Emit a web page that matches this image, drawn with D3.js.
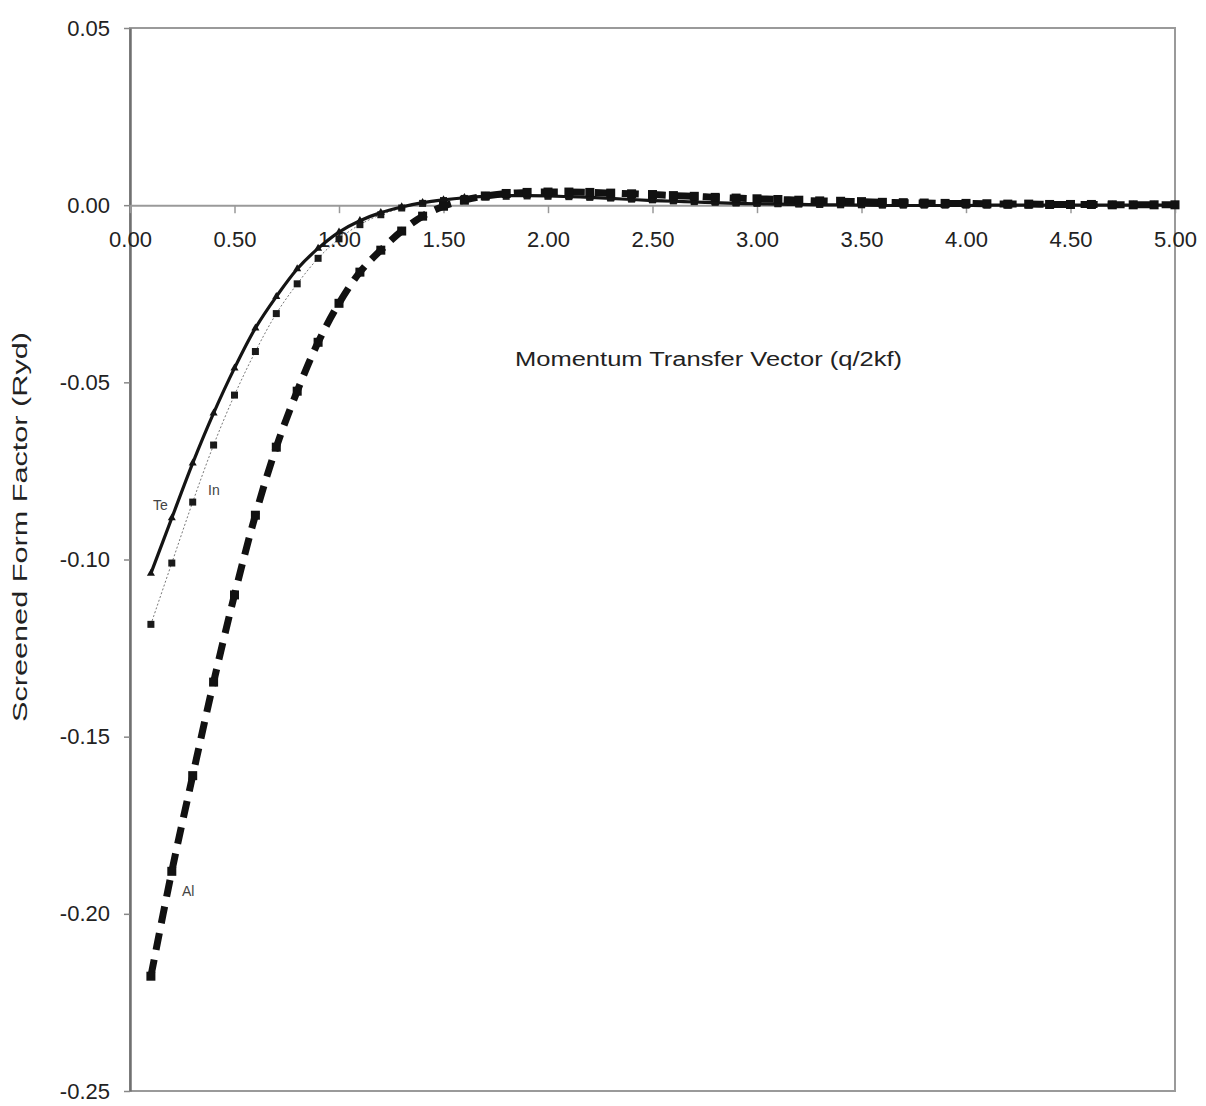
<!DOCTYPE html>
<html>
<head>
<meta charset="utf-8">
<script src="https://cdn.jsdelivr.net/npm/d3@7"></script>
<style>
  body { margin: 0; background: #fff; }
  text { font-family: "Liberation Sans", Arial, sans-serif; }
</style>
</head>
<body>
<div id="chart"></div>
<script>
// momentum transfer q/2kf
const qValues = [0.1, 0.2, 0.3, 0.4, 0.5, 0.6, 0.7, 0.8, 0.9, 1.0,
  1.1, 1.2, 1.3, 1.4, 1.5, 1.6, 1.7, 1.8, 1.9, 2.0,
  2.1, 2.2, 2.3, 2.4, 2.5, 2.6, 2.7, 2.8, 2.9, 3.0,
  3.1, 3.2, 3.3, 3.4, 3.5, 3.6, 3.7, 3.8, 3.9, 4.0,
  4.1, 4.2, 4.3, 4.4, 4.5, 4.6, 4.7, 4.8, 4.9, 5.0];

const teValues = [-0.1039, -0.0883, -0.0728, -0.0587, -0.0460, -0.0347, -0.0258, -0.0180, -0.0122, -0.0076,
  -0.0044, -0.0021, -0.0005, 0.0007, 0.0015, 0.0021, 0.0025, 0.0027, 0.0027, 0.0026,
  0.0024, 0.0022, 0.0019, 0.0016, 0.0013, 0.0011, 0.0009, 0.0007, 0.0005, 0.0004,
  0.0003, 0.0002, 0.0001, 0.0001, 0.0000, -0.0001, -0.0001, -0.0001, -0.0001, -0.0001,
  0.0000, 0.0000, 0.0000, 0.0000, 0.0000, 0.0000, 0.0000, 0.0000, 0.0000, 0.0000];

const inValues = [-0.1183, -0.1010, -0.0838, -0.0677, -0.0536, -0.0413, -0.0306, -0.0222, -0.0150, -0.0095,
  -0.0055, -0.0027, -0.0008, 0.0005, 0.0013, 0.0019, 0.0023, 0.0025, 0.0026, 0.0025,
  0.0024, 0.0022, 0.0020, 0.0017, 0.0015, 0.0012, 0.0010, 0.0008, 0.0006, 0.0005,
  0.0004, 0.0003, 0.0002, 0.0001, 0.0001, 0.0000, 0.0000, 0.0000, 0.0000, 0.0000,
  0.0000, 0.0000, 0.0000, 0.0000, 0.0000, 0.0000, 0.0000, 0.0000, 0.0000, 0.0000];

const alValues = [-0.2176, -0.1880, -0.1610, -0.1346, -0.1100, -0.0875, -0.0683, -0.0525, -0.0387, -0.0277,
  -0.0189, -0.0127, -0.0073, -0.0031, -0.0003, 0.0014, 0.0026, 0.0033, 0.0036, 0.0037,
  0.0037, 0.0036, 0.0034, 0.0032, 0.0030, 0.0027, 0.0025, 0.0022, 0.0020, 0.0018,
  0.0016, 0.0014, 0.0012, 0.0011, 0.0010, 0.0008, 0.0007, 0.0006, 0.0005, 0.0005,
  0.0004, 0.0003, 0.0003, 0.0002, 0.0002, 0.0002, 0.0001, 0.0001, 0.0001, 0.0001];

const xTicks = [0, 0.5, 1.0, 1.5, 2.0, 2.5, 3.0, 3.5, 4.0, 4.5, 5.0];
const yTicks = [0.05, 0, -0.05, -0.10, -0.15, -0.20, -0.25];

const width = 1206;
const height = 1106;
const plotLeft = 130, plotRight = 1175, plotTop = 28, plotBottom = 1091;

const svg = d3.select('#chart').append('svg')
  .attr('width', width)
  .attr('height', height);

const x = d3.scaleLinear().domain([0, 5]).range([plotLeft, plotRight]);
const y = d3.scaleLinear().domain([-0.25, 0.05]).range([plotBottom, plotTop]);
const fmt = d3.format('.2f');

// plot frame
svg.append('rect')
  .attr('x', plotLeft).attr('y', plotTop)
  .attr('width', plotRight - plotLeft).attr('height', plotBottom - plotTop)
  .attr('fill', 'none')
  .attr('stroke', '#9a9a9a')
  .attr('stroke-width', 2);

// y axis, ticks outward to the left
const yAxis = svg.append('g')
  .attr('transform', `translate(${plotLeft},0)`)
  .call(d3.axisLeft(y).tickValues(yTicks).tickSize(6).tickPadding(14).tickSizeOuter(0));
yAxis.select('.domain').attr('stroke', '#707070').attr('stroke-width', 2.5);
yAxis.selectAll('.tick line').attr('stroke', '#888').attr('stroke-width', 1.5);
yAxis.selectAll('.tick text')
  .attr('font-size', 22)
  .attr('fill', '#222')
  .text(d => fmt(d).replace('\u2212', '-'));

// x axis on the zero line, ticks downward
const xAxis = svg.append('g')
  .attr('transform', `translate(0,${y(0)})`)
  .call(d3.axisBottom(x).tickValues(xTicks).tickFormat(fmt).tickSize(8).tickPadding(18).tickSizeOuter(0));
xAxis.select('.domain').attr('stroke', '#9a9a9a').attr('stroke-width', 2);
xAxis.selectAll('.tick line').attr('stroke', '#999').attr('stroke-width', 1.5);
xAxis.selectAll('.tick text').attr('font-size', 22).attr('fill', '#222');

// axis titles
svg.append('text')
  .attr('x', 515).attr('y', 366)
  .attr('font-size', 20)
  .attr('fill', '#222')
  .attr('textLength', 387)
  .attr('lengthAdjust', 'spacingAndGlyphs')
  .text('Momentum Transfer Vector (q/2kf)');

svg.append('text')
  .attr('transform', 'translate(27,527) rotate(-90)')
  .attr('text-anchor', 'middle')
  .attr('font-size', 20)
  .attr('fill', '#222')
  .attr('textLength', 390)
  .attr('lengthAdjust', 'spacingAndGlyphs')
  .text('Screened Form Factor (Ryd)');

const line = d3.line()
  .x((d, i) => x(qValues[i]))
  .y(d => y(d))
  .curve(d3.curveCatmullRom);

const plot = svg.append('g');

// In: thin dotted line, square markers
plot.append('path')
  .datum(inValues)
  .attr('d', line)
  .attr('fill', 'none')
  .attr('stroke', '#777')
  .attr('stroke-width', 1)
  .attr('stroke-dasharray', '2,2');
plot.append('g').selectAll('rect')
  .data(inValues)
  .enter()
  .append('rect')
  .attr('x', (d, i) => x(qValues[i]) - 3.5)
  .attr('y', d => y(d) - 3.5)
  .attr('width', 7).attr('height', 7)
  .attr('fill', '#1a1a1a');

// Te: solid line, small triangle markers
plot.append('path')
  .datum(teValues)
  .attr('d', line)
  .attr('fill', 'none')
  .attr('stroke', '#141414')
  .attr('stroke-width', 3.2);
plot.append('g').selectAll('path')
  .data(teValues)
  .enter()
  .append('path')
  .attr('transform', (d, i) => `translate(${x(qValues[i])},${y(d)})`)
  .attr('d', d3.symbol(d3.symbolTriangle, 28))
  .attr('fill', '#141414');

// Al: thick dashed line, square markers
plot.append('path')
  .datum(alValues)
  .attr('d', line)
  .attr('fill', 'none')
  .attr('stroke', '#111')
  .attr('stroke-width', 7)
  .attr('stroke-dasharray', '17,10');
plot.append('g').selectAll('rect')
  .data(alValues)
  .enter()
  .append('rect')
  .attr('x', (d, i) => x(qValues[i]) - 4.5)
  .attr('y', d => y(d) - 4.5)
  .attr('width', 9).attr('height', 9)
  .attr('fill', '#111');

// series labels
const labels = [
  { text: 'Te', x: 153, y: 510 },
  { text: 'In', x: 208, y: 495 },
  { text: 'Al', x: 182, y: 896 },
];
svg.append('g').selectAll('text')
  .data(labels)
  .enter()
  .append('text')
  .attr('x', d => d.x)
  .attr('y', d => d.y)
  .attr('font-size', 14)
  .attr('fill', '#444')
  .text(d => d.text);
</script>
</body>
</html>
